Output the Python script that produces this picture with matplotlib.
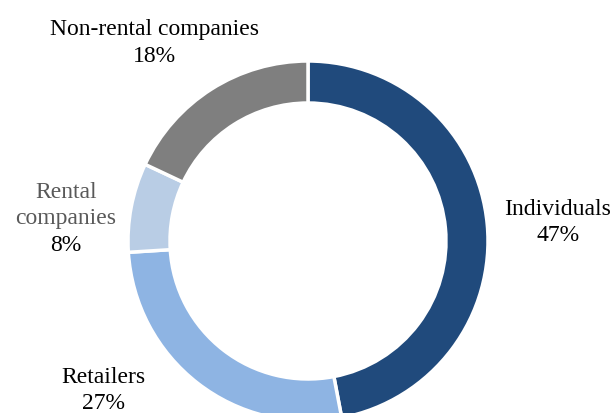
import matplotlib.pyplot as plt

# customer split
segments = ["Individuals", "Retailers", "Rental\ncompanies", "Non-rental companies"]
shares = [47, 27, 8, 18]
colors = ["#204a7c", "#8eb4e3", "#b9cde5", "#7f7f7f"]
name_colors = ["black", "black", "#595959", "black"]
# label x centre and first baseline (pixel space, y measured from top)
label_x = [558, 103, 66, 154]
label_y = [215, 383, 198, 35]
line_step = 26.5

W, H = 614, 414
fig = plt.figure(figsize=(W / 100, H / 100), dpi=100)
ax = fig.add_axes([0, 0, 1, 1])

ax.pie(shares, colors=colors, startangle=90, counterclock=False,
       center=(308, H - 242), radius=180,
       wedgeprops=dict(width=42, edgecolor="white", linewidth=2.5))

font = dict(fontsize=17, family="Liberation Serif", ha="center", va="baseline")
for name, val, col, x, y in zip(segments, shares, name_colors, label_x, label_y):
    lines = name.split("\n")
    for i, line in enumerate(lines):
        ax.text(x, H - (y + i * line_step), line, color=col, **font)
    ax.text(x, H - (y + len(lines) * line_step), f"{val}%", color="black", **font)

ax.set_xlim(0, W)
ax.set_ylim(0, H)
ax.set_aspect("equal")
ax.set_axis_off()

fig.savefig("out.png", dpi=100)
